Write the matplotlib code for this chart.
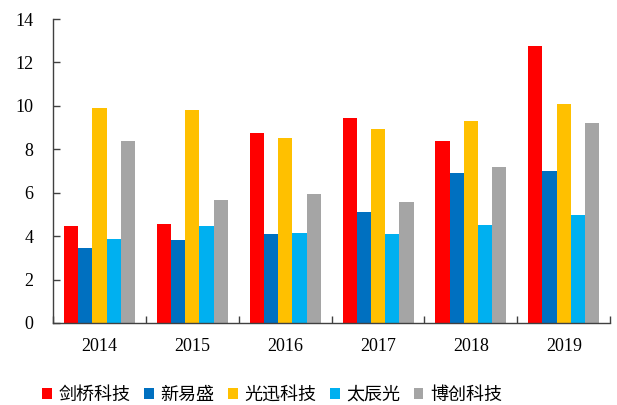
import matplotlib
matplotlib.use('Agg')
import matplotlib.pyplot as plt
import numpy as np

years = ['2014', '2015', '2016', '2017', '2018', '2019']
names = ['剑桥科技', '新易盛', '光迅科技', '太辰光', '博创科技']
jianqiao = [4.45, 4.55, 8.74, 9.43, 8.38, 12.76]
xinyisheng = [3.47, 3.81, 4.09, 5.11, 6.92, 6.99]
guangxun = [9.92, 9.81, 8.51, 8.94, 9.29, 10.09]
taichenguang = [3.88, 4.47, 4.16, 4.11, 4.51, 4.96]
bochuang = [8.38, 5.65, 5.93, 5.59, 7.17, 9.20]
series = [jianqiao, xinyisheng, guangxun, taichenguang, bochuang]
colors = ['#FF0000', '#0070C0', '#FFC000', '#00B0F0', '#A5A5A5']

plt.rcParams['font.family'] = ['Liberation Serif', 'Noto Sans CJK SC']

x = np.arange(len(years))
width = 0.153

fig = plt.figure(figsize=(6.17, 4.05), dpi=100)
ax = fig.add_axes([0.086, 0.2025, 0.903, 0.7505])

for i, (vals, name, c) in enumerate(zip(series, names, colors)):
    ax.bar(x + (i - 2) * width, vals, width, color=c, label=name)

ax.set_xlim(-0.5, len(years) - 0.5)
ax.set_ylim(0, 14)
ax.set_yticks(np.arange(0, 15, 2))
ax.set_xticks(x)
ax.set_xticklabels(years, fontsize=13)
ax.set_xticks(np.arange(-0.5, len(years)), minor=True)
ax.tick_params(axis='x', which='major', length=0, pad=11)
ax.tick_params(axis='x', which='minor', direction='in', length=5, width=1, color='#404040')
ax.tick_params(axis='y', direction='in', length=5, width=1, color='#404040', labelsize=13, pad=14)

for s in ['top', 'right']:
    ax.spines[s].set_visible(False)
for s in ['left', 'bottom']:
    ax.spines[s].set_color('#404040')
    ax.spines[s].set_linewidth(1)

leg = fig.legend(loc='center', bbox_to_anchor=(0.441, 0.025), ncol=5, frameon=False,
                 prop={'family': ['Noto Sans CJK SC'], 'size': 13},
                 handlelength=0.55, handleheight=0.55, handletextpad=0.35, columnspacing=0.75)

fig.savefig('out.png', dpi=100)
